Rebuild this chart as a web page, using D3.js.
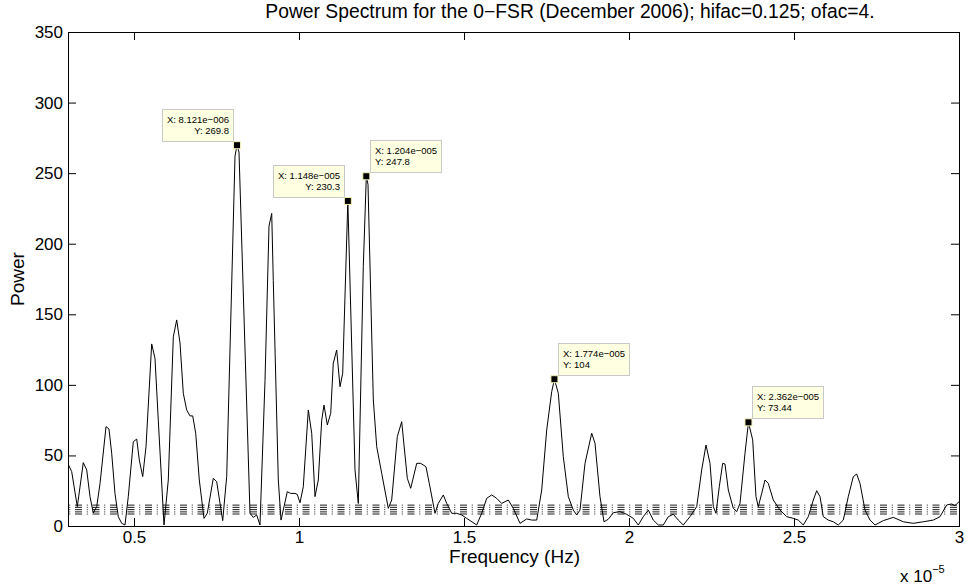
<!DOCTYPE html>
<html>
<head>
<meta charset="utf-8">
<script src="https://cdn.jsdelivr.net/npm/d3@7"></script>
<style>
  html, body { margin: 0; padding: 0; background: #fff; }
  svg { display: block; }
  text { font-family: "Liberation Sans", Arial, Helvetica, sans-serif; fill: #000; }
</style>
</head>
<body>
<svg id="chart" width="966" height="586"></svg>
<script>
// Lomb-Scargle power spectrum, frequency in units of 1e-5 Hz
const freq = [
  0.3000, 0.3112, 0.3282, 0.3464, 0.3567, 0.3667, 0.3767, 0.3870, 0.3970, 0.4152,
  0.4242, 0.4324, 0.4424, 0.4524, 0.4627, 0.4727, 0.4827, 0.4979, 0.5082, 0.5161,
  0.5264, 0.5364, 0.5536, 0.5636, 0.5736, 0.5909, 0.6039, 0.6191, 0.6294, 0.6394,
  0.6494, 0.6597, 0.6697, 0.6779, 0.6870, 0.6979, 0.7121, 0.7221, 0.7403, 0.7506,
  0.7688, 0.7809, 0.8061, 0.8121, 0.8182, 0.8515, 0.8615, 0.8718, 0.8818, 0.8970,
  0.9091, 0.9173, 0.9221, 0.9373, 0.9455, 0.9524, 0.9645, 0.9748, 0.9879, 0.9948,
  1.0030, 1.0130, 1.0282, 1.0385, 1.0485, 1.0585, 1.0688, 1.0758, 1.0858, 1.0961,
  1.1039, 1.1142, 1.1242, 1.1324, 1.1480, 1.1697, 1.1797, 1.1948, 1.2040, 1.2091,
  1.2252, 1.2355, 1.2506, 1.2706, 1.2809, 1.2979, 1.3112, 1.3282, 1.3385, 1.3567,
  1.3688, 1.3848, 1.3948, 1.4121, 1.4221, 1.4373, 1.4476, 1.4627, 1.4779, 1.4930,
  1.5082, 1.5385, 1.5536, 1.5688, 1.5839, 1.5991, 1.6142, 1.6342, 1.6494, 1.6697,
  1.6900, 1.7052, 1.7203, 1.7355, 1.7506, 1.7658, 1.7740, 1.7858, 1.8009, 1.8161,
  1.8312, 1.8415, 1.8515, 1.8667, 1.8870, 1.8970, 1.9121, 1.9242, 1.9373, 1.9524,
  1.9727, 1.9930, 2.0130, 2.0282, 2.0433, 2.0585, 2.0736, 2.0888, 2.1039, 2.1191,
  2.1342, 2.1494, 2.1645, 2.1848, 2.2052, 2.2203, 2.2333, 2.2455, 2.2555, 2.2636,
  2.2736, 2.2839, 2.2909, 2.3009, 2.3161, 2.3264, 2.3364, 2.3515, 2.3620, 2.3748,
  2.3848, 2.3918, 2.4021, 2.4121, 2.4221, 2.4373, 2.4576, 2.4779, 2.4979, 2.5130,
  2.5282, 2.5433, 2.5585, 2.5688, 2.5788, 2.5888, 2.6039, 2.6191, 2.6342, 2.6494,
  2.6645, 2.6797, 2.6900, 2.7000, 2.7152, 2.7303, 2.7455, 2.7706, 2.8009, 2.8312,
  2.8615, 2.8918, 2.9221, 2.9424, 2.9627, 2.9779, 2.9879, 3.0000
];
const power = [
  44.0, 38.5, 13.7, 44.9, 39.7, 20.8, 9.2, 13.7, 30.0, 70.4,
  68.7, 51.5, 23.0, 6.6, 1.9, 0.7, 20.8, 59.7, 61.6, 46.7,
  35.0, 56.2, 129.0, 118.8, 75.0, 0.7, 32.6, 134.0, 146.0, 129.7,
  94.0, 82.2, 78.0, 78.0, 65.7, 32.6, 5.4, 9.0, 33.8, 31.4,
  3.8, 35.0, 262.0, 269.8, 265.0, 9.0, 6.1, 7.8, 0.7, 103.0,
  212.5, 221.5, 174.0, 32.6, 4.2, 11.3, 24.3, 23.1, 23.1, 22.4,
  16.5, 27.8, 82.2, 65.7, 20.8, 32.6, 75.0, 85.7, 71.6, 79.8,
  115.3, 124.7, 98.7, 108.2, 230.3, 39.7, 16.0, 183.7, 247.8, 242.0,
  89.3, 56.2, 37.3, 12.5, 18.4, 63.3, 73.9, 33.8, 26.7, 44.4,
  44.4, 42.0, 30.2, 9.0, 16.0, 22.0, 16.0, 9.0, 9.0, 7.8,
  5.4, 0.7, 9.0, 19.6, 22.0, 19.6, 16.0, 18.4, 12.5, 1.9,
  5.0, 4.2, 4.2, 25.5, 68.0, 95.2, 104.0, 94.0, 49.1, 20.8,
  11.3, 7.8, 11.3, 44.4, 65.7, 58.6, 20.8, 3.0, 4.8, 9.4,
  10.2, 8.3, 5.4, 0.7, 6.6, 11.3, 4.2, 0.7, 0.7, 6.6,
  8.3, 4.2, 0.7, 6.6, 13.7, 39.7, 57.4, 44.4, 13.7, 9.0,
  27.8, 44.4, 43.9, 25.5, 12.5, 10.2, 16.0, 51.5, 73.44, 61.0,
  20.8, 13.7, 23.1, 32.6, 30.2, 18.4, 11.3, 6.6, 5.4, 4.2,
  0.7, 6.6, 18.4, 25.0, 20.8, 6.6, 4.2, 3.0, 0.7, 4.2,
  20.8, 35.0, 36.8, 30.2, 11.3, 4.2, 0.7, 3.8, 6.1, 3.0,
  1.9, 3.0, 4.2, 6.6, 14.9, 15.6, 14.4, 17.2
];

// Significance levels (horizontal dash-dot lines)
const sigLevels = [8.5, 10.0, 11.6, 13.2, 14.8];

// Annotated peaks (frequency in 1e-5 Hz, power)
const tipFreq  = [0.8121, 1.148, 1.204, 1.774, 2.362];
const tipPower = [269.8, 230.3, 247.8, 104, 73.44];
const tipAnchor = ["left", "left", "right", "right", "right"];

// Axis ticks
const xTicks = [0.5, 1, 1.5, 2, 2.5, 3];
const yTicks = [0, 50, 100, 150, 200, 250, 300, 350];

const titleText = "Power Spectrum for the 0\u2212FSR (December 2006); hifac=0.125; ofac=4.";
const xLabel = "Frequency (Hz)";
const yLabel = "Power";

const W = 966, H = 586;
const margin = { left: 68, right: 7, top: 32, bottom: 60 };
const iw = W - margin.left - margin.right;   // 891
const ih = H - margin.top - margin.bottom;   // 494

const svg = d3.select("#chart");
svg.append("rect").attr("width", W).attr("height", H).attr("fill", "#fff");

const g = svg.append("g").attr("transform", `translate(${margin.left},${margin.top})`);

const x = d3.scaleLinear().domain([0.3, 3]).range([0, iw]);
const y = d3.scaleLinear().domain([0, 350]).range([ih, 0]);

g.append("clipPath").attr("id", "plotclip")
  .append("rect").attr("x", 0).attr("y", 0).attr("width", iw).attr("height", ih);

// significance lines
g.append("g").attr("clip-path", "url(#plotclip)")
  .selectAll("line").data(sigLevels).join("line")
  .attr("x1", x(0.3)).attr("x2", x(3))
  .attr("y1", d => y(d)).attr("y2", d => y(d))
  .attr("stroke", "#000").attr("stroke-width", 0.9)
  .attr("stroke-dasharray", "7,4.75,1,4.75")
  .attr("stroke-dashoffset", 10.5);

// spectrum curve
const series = freq.map((f, i) => [f, power[i]]);
g.append("path")
  .datum(series)
  .attr("clip-path", "url(#plotclip)")
  .attr("fill", "none")
  .attr("stroke", "#000")
  .attr("stroke-width", 1)
  .attr("stroke-linejoin", "round")
  .attr("d", d3.line().x(d => x(d[0])).y(d => y(d[1])));

// axes (ticks pointing inward, mirrored on top/right)
const fontTick = 17;
function styleAxis(sel) {
  sel.attr("font-family", null).attr("font-size", null);
  sel.select(".domain").remove();
  sel.selectAll(".tick line").attr("stroke", "#000");
  sel.selectAll(".tick text")
    .style("font-family", '"Liberation Sans", Arial, Helvetica, sans-serif')
    .style("font-size", fontTick + "px").attr("fill", "#000");
}

g.append("g").attr("transform", `translate(0,${ih})`)
  .call(d3.axisBottom(x).tickValues(xTicks).tickFormat(d3.format("~g"))
    .tickSize(-8).tickSizeOuter(0).tickPadding(5))
  .call(styleAxis);
g.append("g")
  .call(d3.axisTop(x).tickValues(xTicks).tickFormat("").tickSize(-8).tickSizeOuter(0))
  .call(styleAxis);
g.append("g")
  .call(d3.axisLeft(y).tickValues(yTicks).tickFormat(d3.format("d"))
    .tickSize(-8).tickSizeOuter(0).tickPadding(5))
  .call(styleAxis);
g.append("g").attr("transform", `translate(${iw},0)`)
  .call(d3.axisRight(y).tickValues(yTicks).tickFormat("").tickSize(-8).tickSizeOuter(0))
  .call(styleAxis);

// frame
g.append("rect")
  .attr("x", 0.5).attr("y", 0.5).attr("width", iw).attr("height", ih)
  .attr("fill", "none").attr("stroke", "#000").attr("stroke-width", 1);

// data tips
const fmtX = v => {
  const s = d3.format(".3e")(v * 1e-5);
  const [m, e] = s.split("e");
  const n = Math.abs(+e);
  return m + "e" + (+e < 0 ? "\u2212" : "+") + String(n).padStart(3, "0");
};
const fmtY = d3.format(".4~g");

const tips = g.append("g").attr("class", "tips");
tipFreq.forEach((f, i) => {
  const mx = x(f), my = y(tipPower[i]);
  const tg = tips.append("g");
  const box = tg.append("rect")
    .attr("fill", "#ffffe1").attr("stroke", "#c8c8c8").attr("stroke-width", 1);
  const lines = ["X: " + fmtX(f), "Y: " + fmtY(tipPower[i])];
  const texts = tg.selectAll("text").data(lines).join("text")
    .style("font-size", "9.5px").attr("fill", "#111")
    .text(d => d);
  let tw = 0;
  texts.each(function () { tw = Math.max(tw, this.getComputedTextLength()); });
  const bw = Math.round(tw + 9), bh = 32;
  const left = tipAnchor[i] === "left";
  const bx = Math.round(left ? mx - 4 - bw : mx + 4);
  const by = Math.round(my - 4 - bh);
  box.attr("x", bx + 0.5).attr("y", by + 0.5)
     .attr("width", bw).attr("height", bh);
  texts
    .attr("x", left ? bx + bw - 4 : bx + 5)
    .attr("y", (d, j) => by + 13.5 + j * 11.3)
    .attr("text-anchor", left ? "end" : "start");
  tg.append("rect")
    .attr("x", mx - 3.5).attr("y", my - 3.5).attr("width", 7).attr("height", 7)
    .attr("fill", "#000").attr("stroke", "#f3f0b8").attr("stroke-width", 1);
});

// title and labels
svg.append("text")
  .attr("x", 570).attr("y", 18)
  .attr("text-anchor", "middle").style("font-size", "19.3px")
  .text(titleText);

svg.append("text")
  .attr("x", margin.left + iw / 2 + 1).attr("y", 563)
  .attr("text-anchor", "middle").style("font-size", "19px")
  .text(xLabel);

svg.append("text")
  .attr("transform", `translate(24,${margin.top + ih / 2}) rotate(-90)`)
  .attr("text-anchor", "middle").style("font-size", "19px")
  .text(yLabel);

const expo = svg.append("text")
  .attr("x", 900).attr("y", 582).style("font-size", "17px");
expo.append("tspan").text("x 10");
expo.append("tspan").attr("dy", -9).style("font-size", "11px").text("\u22125");
</script>
</body>
</html>
